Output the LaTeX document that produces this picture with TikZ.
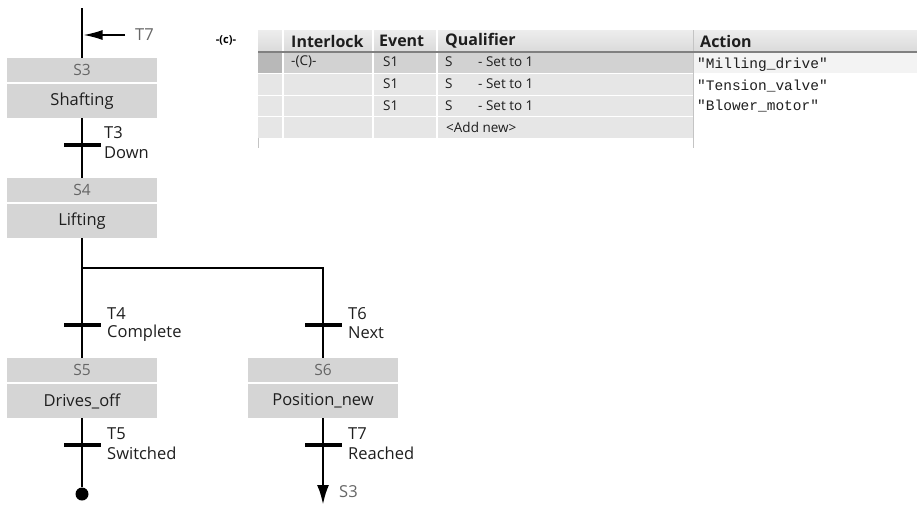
\documentclass[tikz,border=0pt]{standalone}
\usepackage{fontspec}
\setmainfont{Open Sans}
\setmonofont{Liberation Mono}
\usetikzlibrary{arrows.meta}

\definecolor{stepgray}{HTML}{D5D5D5}
\definecolor{numgray}{HTML}{666666}
\definecolor{textdark}{HTML}{1E1E1E}
\definecolor{headgray}{HTML}{DADADA}
\definecolor{headtop}{HTML}{EDEDED}
\definecolor{rowsel}{HTML}{D2D2D2}
\definecolor{rowmark}{HTML}{B8B8B8}
\definecolor{rowgray}{HTML}{E6E6E6}
\definecolor{rowaction}{HTML}{F3F3F3}
\definecolor{linegray}{HTML}{C4C4C4}

\tikzset{
  stepno/.style={fill=stepgray, minimum width=150, minimum height=24, inner sep=0,
    text=numgray, font=\fontsize{15.5}{15.5}\selectfont},
  stepname/.style={fill=stepgray, minimum width=150, minimum height=34, inner sep=0,
    text=textdark, font=\fontsize{16.5}{16.5}\selectfont},
  trans/.style={fill=black, minimum width=37, minimum height=3.6, inner sep=0},
  tlabel/.style={anchor=west, inner sep=0, text=textdark, font=\fontsize{16.5}{16.5}\selectfont},
  flow/.style={line width=2.8, line join=miter},
  colhead/.style={anchor=west, inner sep=0, text=textdark, font=\fontsize{16}{16}\selectfont\bfseries},
  cell/.style={anchor=west, inner sep=0, text=textdark, font=\fontsize{13.5}{13.5}\selectfont},
  actcell/.style={anchor=west, inner sep=0, text=textdark, font=\fontsize{14.5}{14.5}\ttfamily}
}

\begin{document}
\begin{tikzpicture}[x=1pt, y=-1pt]
  \useasboundingbox (0,0) rectangle (917,506);

  \node[stepno] (s3) at (82,70) {S3};
  \node[stepname] (s3n) at (82,101) {Shafting};
  \node[stepno] (s4) at (82,190) {S4};
  \node[stepname] (s4n) at (82,221) {Lifting};
  \node[stepno] (s5) at (82,370) {S5};
  \node[stepname] (s5n) at (82,401) {Drives\_off};
  \node[stepno] (s6) at (323,370) {S6};
  \node[stepname] (s6n) at (323,401) {Position\_new};

  \node[trans] (t3) at (82,145) {};
  \node[trans] (t4) at (82,325) {};
  \node[trans] (t6) at (323,325) {};
  \node[trans] (t5) at (82,445) {};
  \node[trans] (t7) at (323,445) {};

  \node[tlabel] (t3no) at (104,133) {T3};
  \node[tlabel] (t3name) at (104,153) {Down};
  \node[tlabel] (t4no) at (107,314) {T4};
  \node[tlabel] (t4name) at (107,333) {Complete};
  \node[tlabel] (t6no) at (348,314) {T6};
  \node[tlabel] (t6name) at (348,333) {Next};
  \node[tlabel] (t5no) at (107,434) {T5};
  \node[tlabel] (t5name) at (107,453) {Switched};
  \node[tlabel] (t7no) at (348,434) {T7};
  \node[tlabel] (t7name) at (348,453) {Reached};

  \coordinate (top) at (82,8);
  \coordinate (t7in) at (125,35);
  \coordinate (t7tip) at (83.5,35);
  \node[tlabel, text=numgray] (t7jump) at (135,35) {T7};
  \coordinate (br) at (82,268);
  \coordinate (brr) at (323,268);
  \node[circle, fill=black, minimum size=13, inner sep=0] (stop) at (82,494) {};
  \coordinate (jump) at (323,505);
  \node[tlabel, text=numgray] (jumpto) at (339,492) {S3};

  \draw[flow] (top) -- (s3.north);
  \draw[line width=1.6, -{Latex[length=19,width=10]}] (t7in) -- (t7tip);
  \draw[flow] (s3n.south) -- (t3) -- (s4.north);
  \draw[flow] (s4n.south) -- (br) -- (t4) -- (s5.north);
  \draw[flow] (br) -- (brr) -- (t6) -- (s6.north);
  \draw[flow] (s5n.south) -- (t5) -- (stop);
  \draw[flow] (s6n.south) -- (t7);
  \draw[flow, -{Latex[length=20,width=12]}] (t7) -- (jump);

  \node[inner sep=0, text=black, font=\fontsize{11}{11}\selectfont\bfseries] (coil) at (226,40) {-(c)-};

  \shade[top color=headtop, bottom color=headgray] (258,30) rectangle (917,52);
  \fill[rowmark] (258,53) rectangle (283,73);
  \fill[rowsel] (283,53) rectangle (693,73);
  \fill[rowaction] (693,53) rectangle (917,73);
  \fill[rowgray] (258,74) rectangle (693,95);
  \fill[rowgray] (258,96) rectangle (693,116);
  \fill[rowgray] (258,117) rectangle (693,138);
  \draw[white, line width=1.2] (283,30) -- (283,138);
  \draw[white, line width=1.2] (373,30) -- (373,138);
  \draw[white, line width=1.2] (437,30) -- (437,138);
  \draw[white, line width=1.2] (258,95.5) -- (693,95.5);
  \draw[white, line width=1.2] (258,116.5) -- (693,116.5);
  \draw[linegray, line width=1] (693,30) -- (693,148);
  \draw[linegray, line width=1] (258,138) -- (258,148);
  \draw[gray, line width=1.4] (258,52) -- (917,52);

  \node[colhead] (hlock) at (291,41) {Interlock};
  \node[colhead] (hevent) at (379,41) {Event};
  \node[colhead] (hqual) at (445,41) {Qualifier};
  \node[colhead] (haction) at (700,41) {Action};

  \node[cell] (lock1) at (291,62) {-(C)-};
  \node[cell] (ev1) at (383,62) {S1};
  \node[cell] (ev2) at (383,84) {S1};
  \node[cell] (ev3) at (383,106) {S1};
  \node[cell] (q1) at (445,62) {S};
  \node[cell] (q2) at (445,84) {S};
  \node[cell] (q3) at (445,106) {S};
  \node[cell] (qt1) at (478,62) {- Set to 1};
  \node[cell] (qt2) at (478,84) {- Set to 1};
  \node[cell] (qt3) at (478,106) {- Set to 1};
  \node[cell] (addnew) at (446,127) {<Add new>};

  \node[actcell] (act1) at (697,65) {"Milling\_drive"};
  \node[actcell] (act2) at (697,86) {"Tension\_valve"};
  \node[actcell] (act3) at (697,106) {"Blower\_motor"};
\end{tikzpicture}
\end{document}
